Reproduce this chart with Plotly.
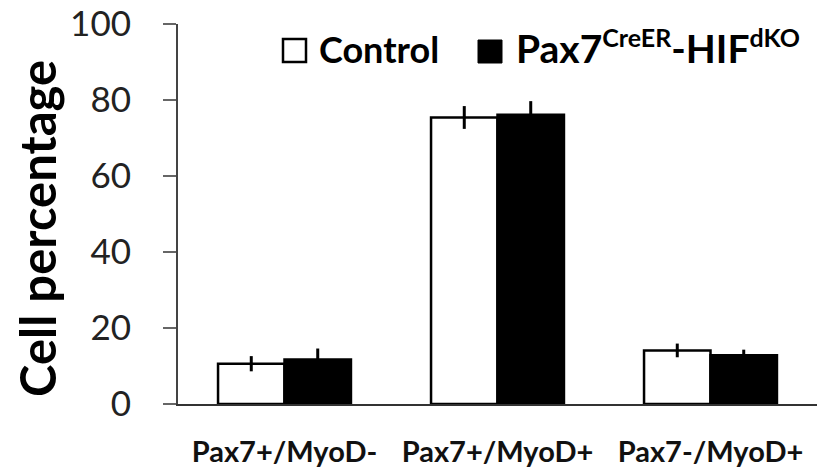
import plotly.graph_objects as go

categories = ["Pax7+/MyoD-", "Pax7+/MyoD+", "Pax7-/MyoD+"]
control_vals = [10.6, 75.4, 14.1]
control_err = [2.0, 3.0, 1.8]
hif_vals = [11.7, 76.1, 12.8]
hif_err = [2.9, 3.6, 1.5]
y_ticks = [0, 20, 40, 60, 80, 100]

W, H = 817, 467
L, R, T, B = 178, 0, 24, 63
PW, PH = W - L - R, H - T - B

def px(x):
    return (x - L) / PW

def py(y):
    return (H - B - y) / PH

FONT = "Lato"
xpos = list(range(len(categories)))

fig = go.Figure()
fig.add_trace(go.Bar(
    x=xpos, y=control_vals, name="Control",
    marker=dict(color="white", line=dict(color="black", width=2.5)),
    error_y=dict(type="data", array=control_err, visible=True,
                 color="black", thickness=3, width=0),
    showlegend=False,
))
fig.add_trace(go.Bar(
    x=xpos, y=hif_vals, name="Pax7-HIF",
    marker=dict(color="black", line=dict(color="black", width=2.5)),
    error_y=dict(type="data", array=hif_err, visible=True,
                 color="black", thickness=3, width=0),
    showlegend=False,
))

fig.update_layout(
    width=W, height=H,
    margin=dict(l=L, r=R, t=T, b=B, pad=0),
    paper_bgcolor="white", plot_bgcolor="white",
    barmode="group", bargap=0.376, bargroupgap=0,
    xaxis=dict(
        range=[-0.5, len(categories) - 0.5],
        tickvals=xpos, ticktext=categories,
        showline=True, linecolor="#333333", linewidth=2,
        ticks="", showgrid=False, zeroline=False,
        tickfont=dict(family=FONT, size=29, color="#111111", weight="bold"),
        ticklabelstandoff=21,
    ),
    yaxis=dict(
        range=[0, 100], tickvals=y_ticks,
        showline=True, linecolor="#444444", linewidth=2,
        ticks="outside", ticklen=13, tickwidth=1.5, tickcolor="#666666",
        showgrid=False, zeroline=False,
        tickfont=dict(family=FONT, size=35, color="#222222"),
        ticklabelstandoff=25,
    ),
    font=dict(family=FONT),
)

# y-axis title
fig.add_annotation(
    text="<b>Cell percentage</b>", textangle=-90,
    xref="paper", yref="paper", x=px(37), y=py(229),
    xanchor="center", yanchor="middle", showarrow=False,
    font=dict(family=FONT, size=49, color="black"),
)

# legend
fig.add_shape(type="rect", xref="paper", yref="paper",
              x0=px(283), x1=px(306), y0=py(62), y1=py(39),
              line=dict(color="black", width=2.5), fillcolor="white")
fig.add_annotation(text="<b>Control</b>", xref="paper", yref="paper",
                   x=px(317), y=py(73), xanchor="left", yanchor="bottom",
                   showarrow=False, font=dict(family=FONT, size=36, color="black"))
fig.add_shape(type="rect", xref="paper", yref="paper",
              x0=px(478), x1=px(502), y0=py(63), y1=py(40),
              line=dict(color="black", width=1), fillcolor="black")
fig.add_annotation(
    text=("<b>Pax7<sup><span style='font-size:25px'>CreER</span></sup>"
          "-HIF<sup><span style='font-size:25px'>dKO</span></sup></b>"),
    xref="paper", yref="paper",
    x=px(514), y=py(73), xanchor="left", yanchor="bottom",
    showarrow=False, font=dict(family=FONT, size=39, color="black"))

fig.write_html("out.html")
